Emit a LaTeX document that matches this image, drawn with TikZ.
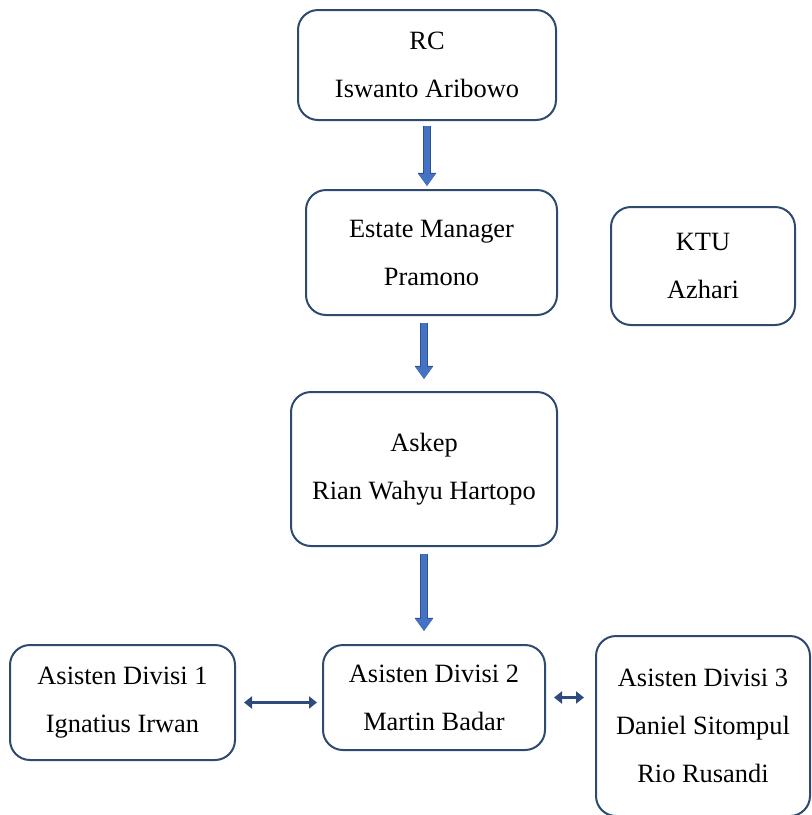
\documentclass[tikz,border=0pt]{standalone}
\usepackage{fontspec}
\setmainfont{Liberation Serif}
\usetikzlibrary{arrows.meta,positioning}
\definecolor{boxnavy}{HTML}{2E4A6F}
\definecolor{arrowblue}{HTML}{4472C4}
\definecolor{arrowedge}{HTML}{2F528F}
\definecolor{linknavy}{HTML}{2F4A7C}

\begin{document}
\begin{tikzpicture}[x=0.5pt, y=-0.5pt,
  orgbox/.style={draw=boxnavy, line width=1pt, rounded corners=10pt, align=center, inner sep=0pt, font={\fontsize{13.2pt}{24pt}\selectfont}},
  downflow/.style={line width=3.2pt, draw=arrowblue, -{Triangle[length=6pt, width=8pt]},
    preaction={draw=arrowedge, line width=4.2pt, -{Triangle[length=6.6pt, width=9pt]}}},
  sideflow/.style={line width=1.8pt, draw=linknavy, {Triangle[length=4pt, width=6pt]}-{Triangle[length=4pt, width=6pt]}}]
  \path[use as bounding box, clip] (0,0) rectangle (812,815);

  \node[orgbox, minimum width=129pt, minimum height=55pt] (rc) at (427,65) {RC\\Iswanto Aribowo};
  \node[orgbox, minimum width=125.5pt, minimum height=62.5pt] (em) at (431.5,252.5) {Estate Manager\\Pramono};
  \node[orgbox, minimum width=92pt, minimum height=59pt] (ktu) at (703,266) {KTU\\Azhari};
  \node[orgbox, minimum width=133pt, minimum height=77pt] (askep) at (424,469) {Askep\\Rian Wahyu Hartopo};
  \node[orgbox, minimum width=112.5pt, minimum height=57.5pt] (div1) at (122.5,702.5) {Asisten Divisi 1\\Ignatius Irwan};
  \node[orgbox, minimum width=111pt, minimum height=52.5pt] (div2) at (434,697.5) {Asisten Divisi 2\\Martin Badar};
  \node[orgbox, minimum width=107pt, minimum height=90pt] (div3) at (703,726) {Asisten Divisi 3\\Daniel Sitompul\\Rio Rusandi};

  \draw[downflow, shorten <=2.5pt, shorten >=1.5pt] (rc.south) -- (rc.south |- em.north);
  \draw[downflow, shorten <=3.5pt, shorten >=6pt] (em.south -| askep.north) -- (askep.north);
  \draw[downflow, shorten <=3.5pt, shorten >=6.5pt] (askep.south) -- (askep.south |- div2.north);

  \draw[sideflow, shorten <=4pt, shorten >=2.5pt] (div1.east) -- (div1.east -| div2.west);
  \draw[sideflow, shorten <=4pt, shorten >=5.5pt] (div2.east) -- (div2.east -| div3.west);
\end{tikzpicture}
\end{document}
